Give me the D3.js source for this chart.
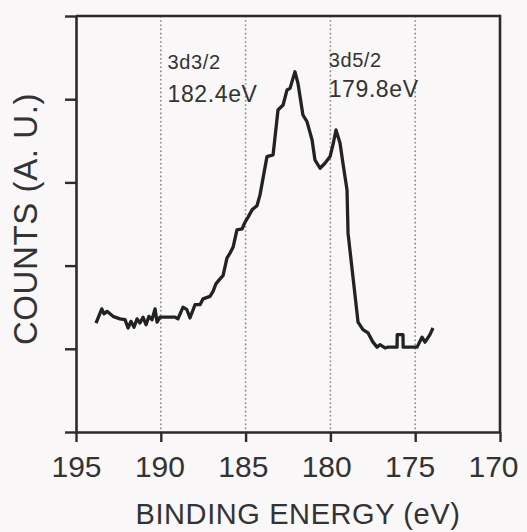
<!DOCTYPE html>
<html><head><meta charset="utf-8">
<script src="https://cdn.jsdelivr.net/npm/d3@7/dist/d3.min.js"></script>
<style>
html,body{margin:0;padding:0;background:#f9f7f8;}
svg{display:block;}
text{font-family:"Liberation Sans",Arial,sans-serif;fill:#333;}
</style></head><body>
<svg id="c" width="527" height="532"></svg>
<script>
// Binding energy (eV) and counts (arbitrary units)
const energy = [193.82,193.48,193.35,193.17,192.82,192.41,192.11,191.93,191.76,191.58,191.40,191.23,191.05,190.87,190.70,190.52,190.34,190.22,190.05,189.87,189.16,188.99,188.69,188.46,188.28,187.98,187.69,187.51,187.10,186.92,186.75,186.51,186.33,186.10,185.92,185.74,185.51,185.21,185.04,184.86,184.62,184.33,184.15,183.74,183.38,183.09,182.79,182.56,182.38,182.09,181.91,181.62,181.38,181.08,180.91,180.61,180.32,180.02,179.85,179.67,179.43,179.26,179.02,178.96,178.37,178.08,177.78,177.49,177.25,177.08,176.78,176.60,176.07,176.06,175.72,175.71,175.19,174.89,174.60,174.42,174.13,173.95];
const counts = [1.31,1.48,1.42,1.45,1.39,1.36,1.35,1.25,1.33,1.26,1.36,1.31,1.38,1.29,1.39,1.35,1.48,1.32,1.38,1.38,1.38,1.36,1.50,1.47,1.37,1.53,1.53,1.60,1.63,1.69,1.78,1.84,1.88,2.09,2.15,2.22,2.43,2.44,2.52,2.58,2.67,2.72,2.85,3.31,3.33,3.87,3.93,4.11,4.13,4.33,4.19,3.81,3.73,3.51,3.27,3.17,3.23,3.31,3.45,3.63,3.47,3.23,2.91,2.39,1.32,1.23,1.19,1.08,1.02,1.05,1.01,1.02,1.02,1.17,1.17,1.02,1.02,1.02,1.14,1.08,1.17,1.25];
const xTicks = [195,190,185,180,175,170];
const gridLines = [190,185,180,175];
const yTicks = [0,1,2,3,4,5];
const peakNames = ["3d3/2","3d5/2"];
const peakLabels = ["182.4eV","179.8eV"];
const xLabel = "BINDING ENERGY (eV)";
const yLabel = "COUNTS (A. U.)";

const svg = d3.select("#c");
const L=76,R=500,T=16,B=432;
const x = d3.scaleLinear().domain([195,170]).range([L,R]);
const y = d3.scaleLinear().domain([0,5]).range([B,T]);
const ink="#2b2b2b";

// gridlines
svg.append("g").selectAll("line").data(gridLines).join("line")
  .attr("x1",d=>x(d)).attr("x2",d=>x(d)).attr("y1",T).attr("y2",B)
  .attr("stroke","#8a8a8a").attr("stroke-width",1.6).attr("stroke-dasharray","1.6,2.6");

// axes
const xa = svg.append("g").attr("transform",`translate(0,${B})`)
  .call(d3.axisBottom(x).tickValues(xTicks).tickSize(10).tickSizeOuter(0).tickFormat(d3.format("d")));
const ya = svg.append("g").attr("transform",`translate(${L},0)`)
  .call(d3.axisLeft(y).tickValues(yTicks).tickSize(11).tickSizeOuter(0).tickFormat(""));
[xa,ya].forEach(g=>{
  g.select(".domain").attr("stroke",ink).attr("stroke-width",2.6);
  g.selectAll(".tick line").attr("stroke",ink).attr("stroke-width",2.4);
});
xa.selectAll(".tick text").attr("font-size",30).attr("dy",0).attr("y",45)
  .attr("fill","#333").style("font-family","'Liberation Sans',Arial,sans-serif")
  .attr("dx",(d,i)=>-i*1.4);
// top & right frame
svg.append("line").attr("x1",L).attr("x2",R).attr("y1",T).attr("y2",T).attr("stroke",ink).attr("stroke-width",2.6);
svg.append("line").attr("x1",R).attr("x2",R).attr("y1",T-1.3).attr("y2",B).attr("stroke",ink).attr("stroke-width",2.6);

// spectrum
const pts = energy.map((e,i)=>[e,counts[i]]);
svg.append("path").datum(pts)
  .attr("d",d3.line().x(d=>x(d[0])).y(d=>y(d[1])))
  .attr("fill","none").attr("stroke","#222").attr("stroke-width",3.3).attr("stroke-linejoin","round");

// peak annotations
const annX=[x(189.6),x(180.1)];
const nameY=[69,67], valY=[102,97];
peakNames.forEach((n,i)=>{
  svg.append("text").attr("x",annX[i]).attr("y",nameY[i]).attr("font-size",20).attr("letter-spacing",0.6).text(n);
  svg.append("text").attr("x",annX[i]).attr("y",valY[i]).attr("font-size",23).attr("letter-spacing",0.6).text(peakLabels[i]);
});

// axis titles
svg.append("text").attr("x",(L+R)/2+10).attr("y",524).attr("text-anchor","middle").attr("font-size",29).attr("letter-spacing",0.6).text(xLabel);
svg.append("text").attr("transform","translate(37,219) rotate(-90)").attr("text-anchor","middle").attr("font-size",33).attr("letter-spacing",0.6).text(yLabel);
</script></body></html>
